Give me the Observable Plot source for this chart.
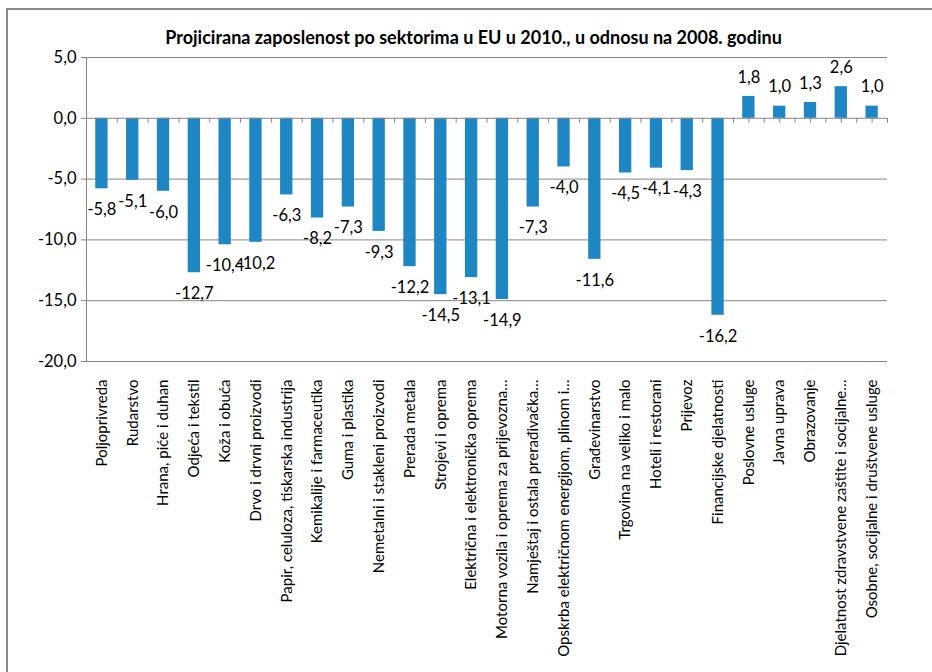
<!DOCTYPE html>
<html>
<head>
<meta charset="utf-8">
<script src="https://cdn.jsdelivr.net/npm/d3@7"></script>
<script src="https://cdn.jsdelivr.net/npm/@observablehq/plot@0.6"></script>
<style>
  html, body { margin: 0; padding: 0; background: #fff; overflow: hidden; width: 932px; height: 672px; }
  #frame { position: absolute; left: 6px; top: 8px; width: 1200px; height: 1200px; border: 2px solid #8a8a8a; box-sizing: border-box; }
  #title { position: absolute; left: 0; width: 947px; top: 26px; text-align: center; font: bold 18px Lato, sans-serif; color: #000; }
  #chart { position: absolute; left: 0; top: 0; }
</style>
</head>
<body>
<div id="frame"></div>
<div id="chart"></div>
<div id="title">Projicirana zaposlenost po sektorima u EU u 2010., u odnosu na 2008. godinu</div>
<script>
const categories = [
  "Poljoprivreda",
  "Rudarstvo",
  "Hrana, piće i duhan",
  "Odjeća i tekstil",
  "Koža i obuća",
  "Drvo i drvni proizvodi",
  "Papir, celuloza, tiskarska industrija",
  "Kemikalije i farmaceutika",
  "Guma i plastika",
  "Nemetalni i stakleni proizvodi",
  "Prerada metala",
  "Strojevi i oprema",
  "Električna i elektronička oprema",
  "Motorna vozila i oprema za prijevozna…",
  "Namještaj i ostala prerađivačka…",
  "Opskrba električnom energijom, plinom i…",
  "Građevinarstvo",
  "Trgovina na veliko i malo",
  "Hoteli i restorani",
  "Prijevoz",
  "Financijske djelatnosti",
  "Poslovne usluge",
  "Javna uprava",
  "Obrazovanje",
  "Djelatnost zdravstvene zaštite i socijalne…",
  "Osobne, socijalne i društvene usluge"
];
const values = [-5.8, -5.1, -6.0, -12.7, -10.4, -10.2, -6.3, -8.2, -7.3, -9.3, -12.2, -14.5, -13.1, -14.9, -7.3, -4.0, -11.6, -4.5, -4.1, -4.3, -16.2, 1.8, 1.0, 1.3, 2.6, 1.0];
const yTicks = [5, 0, -5, -10, -15, -20];

const data = categories.map((c, i) => ({category: c, value: values[i]}));
const fmt = v => d3.format(".1f")(v).replace(".", ",").replace("−", "-");

const W = 932, H = 672;
const mL = 86, mR = 45, mT = 57, mB = 311;
const step = (W - mL - mR) / categories.length;
const gray = "#868686";
const blue = "#1f86c4";
const tickLen = 5 / ((H - mT - mB) / 25);

const chart = Plot.plot({
  width: W,
  height: H,
  marginLeft: mL,
  marginRight: mR,
  marginTop: mT,
  marginBottom: mB,
  style: {fontFamily: "Lato, sans-serif", fontSize: "16px", color: "#000", background: "transparent"},
  x: {domain: categories, paddingInner: 0.6, paddingOuter: 0.3, round: false, label: null},
  y: {domain: [-20, 5], label: null},
  marks: [
    Plot.gridY(yTicks.filter(t => t !== 0), {stroke: gray, strokeOpacity: 1, strokeWidth: 1}),
    Plot.barY(data, {x: "category", y: "value", fill: blue}),
    Plot.ruleY([0], {stroke: gray, strokeWidth: 1}),
    // category tick marks at band boundaries and centres
    Plot.ruleX(data, {x: "category", y1: 0, y2: -tickLen, dx: -step / 2, stroke: gray}),
    Plot.ruleX(data.slice(-1), {x: "category", y1: 0, y2: -tickLen, dx: step / 2, stroke: gray}),
    Plot.ruleX(data.filter(d => d.value > 0), {x: "category", y1: 0, y2: -tickLen, stroke: gray}),
    Plot.axisY({ticks: yTicks, tickFormat: fmt, tickSize: 5, tickPadding: 5, stroke: gray, fontSize: 16.5}),
    Plot.frame({anchor: "left", stroke: gray}),
    Plot.axisX({anchor: "bottom", tickSize: 0, tickPadding: 18, tickRotate: -90, fontSize: 15}),
    Plot.text(data.filter(d => d.value < 0), {x: "category", y: "value", text: d => fmt(d.value), dy: 21, fontSize: 16.5}),
    Plot.text(data.filter(d => d.value >= 0), {x: "category", y: "value", text: d => fmt(d.value), dy: -19, fontSize: 16.5})
  ]
});
document.getElementById("chart").appendChild(chart);
</script>
</body>
</html>
